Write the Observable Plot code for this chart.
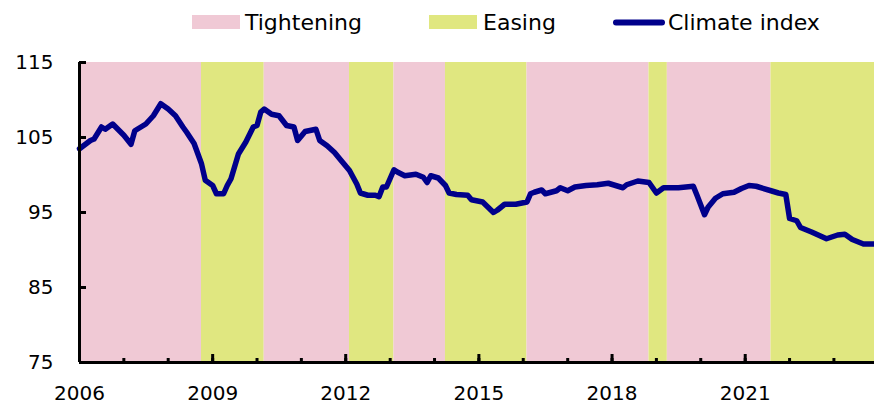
<!DOCTYPE html>
<html><head><meta charset="utf-8">
<script src="https://cdn.jsdelivr.net/npm/d3@7"></script>
<script src="https://cdn.jsdelivr.net/npm/@observablehq/plot@0.6"></script>
<style>
body{margin:0;background:#fff;font-family:"DejaVu Sans",sans-serif;}
#wrap{position:relative;width:874px;height:407px;overflow:hidden;}
#legend svg, #chart svg{display:block;}
</style></head><body>
<div id="wrap"><div id="legend"></div><div id="chart"></div></div>
<script>
// ---- data ----
const dates = ["2006-01","2006-04","2006-05","2006-07","2006-08","2006-10","2007-01","2007-03","2007-04","2007-07","2007-09","2007-11","2008-01","2008-03","2008-05","2008-06","2008-08","2008-10","2008-11","2009-01","2009-02","2009-04","2009-05","2009-06","2009-08","2009-10","2009-12","2010-01","2010-02","2010-03","2010-05","2010-07","2010-09","2010-11","2010-12","2011-02","2011-05","2011-06","2011-08","2011-10","2011-12","2012-02","2012-04","2012-05","2012-07","2012-09","2012-10","2012-11","2012-12","2013-02","2013-03","2013-05","2013-08","2013-10","2013-11","2013-12","2014-02","2014-04","2014-05","2014-07","2014-10","2014-11","2015-02","2015-05","2015-06","2015-08","2015-11","2016-02","2016-03","2016-04","2016-06","2016-07","2016-10","2016-11","2017-01","2017-03","2017-06","2017-09","2017-12","2018-04","2018-05","2018-08","2018-11","2019-01","2019-03","2019-07","2019-11","2019-12","2020-02","2020-03","2020-05","2020-07","2020-10","2020-12","2021-02","2021-04","2021-08","2021-10","2021-12","2022-01","2022-03","2022-04","2022-07","2022-11","2023-02","2023-04","2023-06","2023-09","2023-12"];
const climateIndex = [103.5,104.6,104.8,106.4,106.1,106.8,105.3,104.1,105.9,106.8,107.9,109.5,108.8,107.9,106.4,105.7,104.2,101.5,99.3,98.6,97.5,97.5,98.6,99.5,102.8,104.4,106.4,106.6,108.4,108.8,108.1,107.9,106.6,106.4,104.6,105.8,106.1,104.6,103.9,103.0,101.8,100.6,98.8,97.6,97.3,97.3,97.1,98.4,98.4,100.7,100.4,99.9,100.1,99.7,99.0,99.9,99.6,98.6,97.6,97.4,97.3,96.7,96.4,95.0,95.3,96.1,96.1,96.4,97.5,97.7,98.0,97.5,97.9,98.3,97.9,98.4,98.6,98.7,98.9,98.3,98.7,99.2,99.0,97.6,98.3,98.3,98.5,97.3,94.7,95.7,96.9,97.5,97.7,98.2,98.6,98.5,97.9,97.6,97.4,94.2,93.9,93.0,92.4,91.5,92.0,92.1,91.4,90.8,90.8];

const bandStart = ["2006-01","2008-10","2010-03","2012-02","2013-02","2014-04","2016-02","2018-11","2019-04","2021-08"];
const bandEnd   = ["2008-10","2010-03","2012-02","2013-02","2014-04","2016-02","2018-11","2019-04","2021-08","2023-12"];
const bandPhase = ["Tightening","Easing","Tightening","Easing","Tightening","Easing","Tightening","Easing","Tightening","Easing"];

const xDomain = ["2006-01","2023-12"];
const yDomain = [75, 115];
const yTicks = [75, 85, 95, 105, 115];
const xLabelYears = [2006, 2009, 2012, 2015, 2018, 2021];
const legendLabels = ["Tightening", "Easing", "Climate index"];

// ---- styles ----
const PINK = "#F0C9D5", GREEN = "#E0E780", NAVY = "#00008B";
const FONT = "'DejaVu Sans', sans-serif";
const parse = d3.utcParse("%Y-%m");

const series = dates.map((d, i) => ({date: parse(d), value: climateIndex[i]}));
const bands = bandStart.map((s, i) => ({x1: parse(s), x2: parse(bandEnd[i]), phase: bandPhase[i]}));
const x0 = parse(xDomain[0]), x1 = parse(xDomain[1]);
const majorTicks = xLabelYears.map(y => new Date(Date.UTC(y, 0, 1)));
const minorTicks = d3.range(2006, 2024).map(y => new Date(Date.UTC(y, 0, 1)));

// legend (above the chart)
const lg = d3.select("#legend").append("svg").attr("width", 874).attr("height", 40)
  .style("font-family", FONT).style("font-size", "22px");
const legendPos = [{sw: 192, tx: 245}, {sw: 429, tx: 483}, {sw: 613, tx: 668}];
legendLabels.forEach((lab, i) => {
  if (i < 2) {
    lg.append("rect").attr("x", legendPos[i].sw).attr("y", 15).attr("width", 48).attr("height", 14)
      .attr("fill", i === 0 ? PINK : GREEN);
  } else {
    lg.append("line").attr("x1", legendPos[i].sw + 3).attr("x2", legendPos[i].sw + 49)
      .attr("y1", 22.5).attr("y2", 22.5).attr("stroke", NAVY).attr("stroke-width", 6).attr("stroke-linecap", "round");
  }
  lg.append("text").attr("x", legendPos[i].tx).attr("y", 29.5).attr("fill", "#000").text(lab);
});

const chart = Plot.plot({
  width: 874,
  height: 367,
  marginTop: 22,
  marginBottom: 45,
  marginLeft: 79,
  marginRight: 0,
  style: {fontFamily: FONT, fontSize: "20px", color: "#000", background: "#fff"},
  x: {type: "utc", domain: [x0, x1]},
  y: {domain: yDomain},
  marks: [
    Plot.rect(bands, {x1: "x1", x2: "x2", fill: d => d.phase === "Tightening" ? PINK : GREEN}),
    Plot.line(series, {x: "date", y: "value", stroke: NAVY, strokeWidth: 5.5, strokeLinejoin: "round", strokeLinecap: "round"}),
    Plot.axisY({ticks: yTicks, tickSize: 0, tickPadding: 26, fontSize: 20, label: null}),
    Plot.axisY({ticks: yTicks, tickSize: -7, fill: "none", strokeWidth: 3, label: null}),
    Plot.axisX({ticks: majorTicks, tickSize: 0, tickPadding: 23, tickFormat: d3.utcFormat("%Y"), fontSize: 20, label: null}),
    Plot.axisX({ticks: majorTicks, tickSize: -8, fill: "none", strokeWidth: 3, label: null}),
    Plot.axisX({ticks: minorTicks, tickSize: -4, fill: "none", strokeWidth: 3, label: null}),
    Plot.ruleY([yDomain[0]], {stroke: "#000", strokeWidth: 3}),
    Plot.ruleX([x0], {stroke: "#000", strokeWidth: 3})
  ]
});
document.getElementById("chart").appendChild(chart);
</script>
</body></html>
